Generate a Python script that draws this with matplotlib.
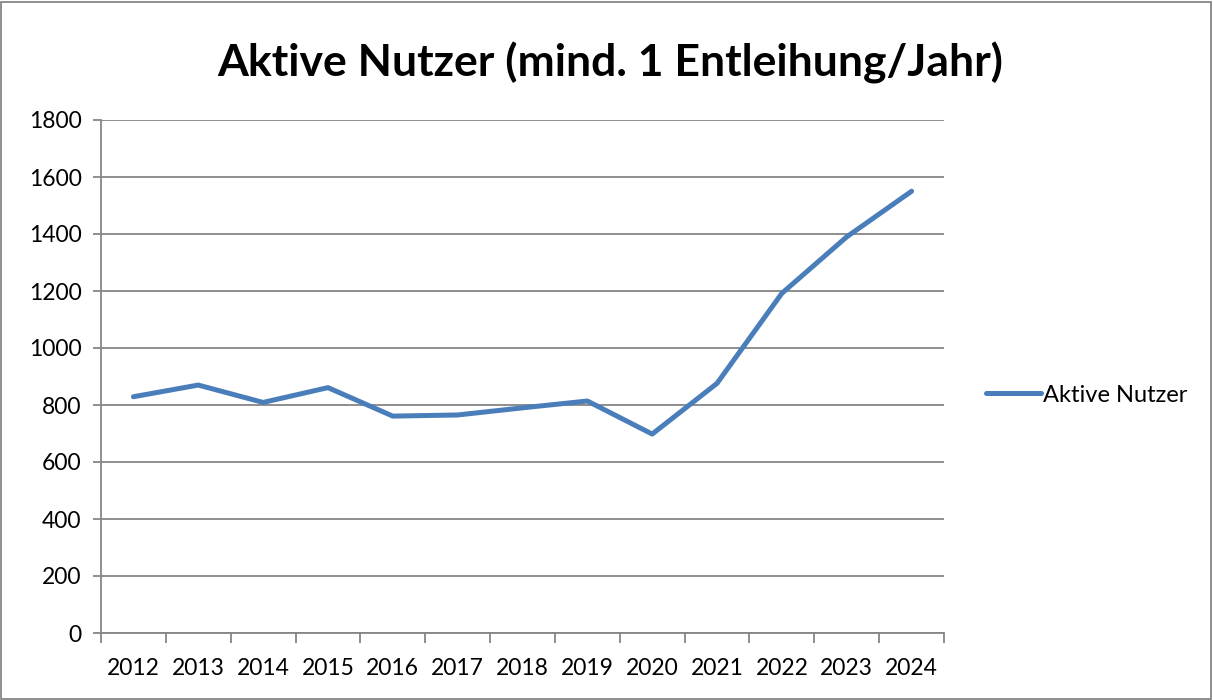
import matplotlib.pyplot as plt
from matplotlib.patches import Rectangle

# Daten
jahre = ['2012', '2013', '2014', '2015', '2016', '2017', '2018',
         '2019', '2020', '2021', '2022', '2023', '2024']
aktive_nutzer = [829, 870, 809, 861, 761, 765, 790, 814, 698, 876, 1192, 1390, 1550]

plt.rcParams['font.family'] = ['Lato', 'DejaVu Sans']

fig = plt.figure(figsize=(12.13, 7.0), dpi=100)
ax = fig.add_axes([101 / 1213, 1 - 633 / 700, (944 - 101) / 1213, (633 - 120) / 700])

grau = '#868686'
x = list(range(len(jahre)))
ax.plot(x, aktive_nutzer, color='#4A7EBB', linewidth=3.6,
        solid_capstyle='round', solid_joinstyle='round', label='Aktive Nutzer')

ax.set_xlim(-0.5, len(jahre) - 0.5)
ax.set_ylim(0, 1800)
ax.set_yticks(range(0, 1801, 200))
ax.yaxis.grid(True, color=grau, linewidth=1.3)
ax.set_axisbelow(True)

ax.set_xticks(x)
ax.set_xticklabels(jahre)
ax.set_xticks([i - 0.5 for i in range(len(jahre) + 1)], minor=True)
ax.tick_params(axis='x', which='major', length=0, pad=18, labelsize=16.5)
ax.tick_params(axis='x', which='minor', length=7, width=1.3, color=grau)
ax.tick_params(axis='y', length=6, width=1.3, color=grau, pad=8, labelsize=16.5)

for s in ['top', 'right']:
    ax.spines[s].set_visible(False)
for s in ['left', 'bottom']:
    ax.spines[s].set_color(grau)
    ax.spines[s].set_linewidth(1.3)

fig.suptitle('Aktive Nutzer (mind. 1 Entleihung/Jahr)', x=0.503, y=0.94,
             fontsize=32, fontweight='bold')

fig.legend(loc='center left', bbox_to_anchor=(965 / 1213, 1 - 395 / 700),
           frameon=False, fontsize=17, handlelength=2.3, handletextpad=0.1)

fig.patches.append(Rectangle((0.001, 0.002), 0.997, 0.995, transform=fig.transFigure,
                             fill=False, edgecolor=grau, linewidth=1.3))

fig.savefig('out.png', dpi=100)
